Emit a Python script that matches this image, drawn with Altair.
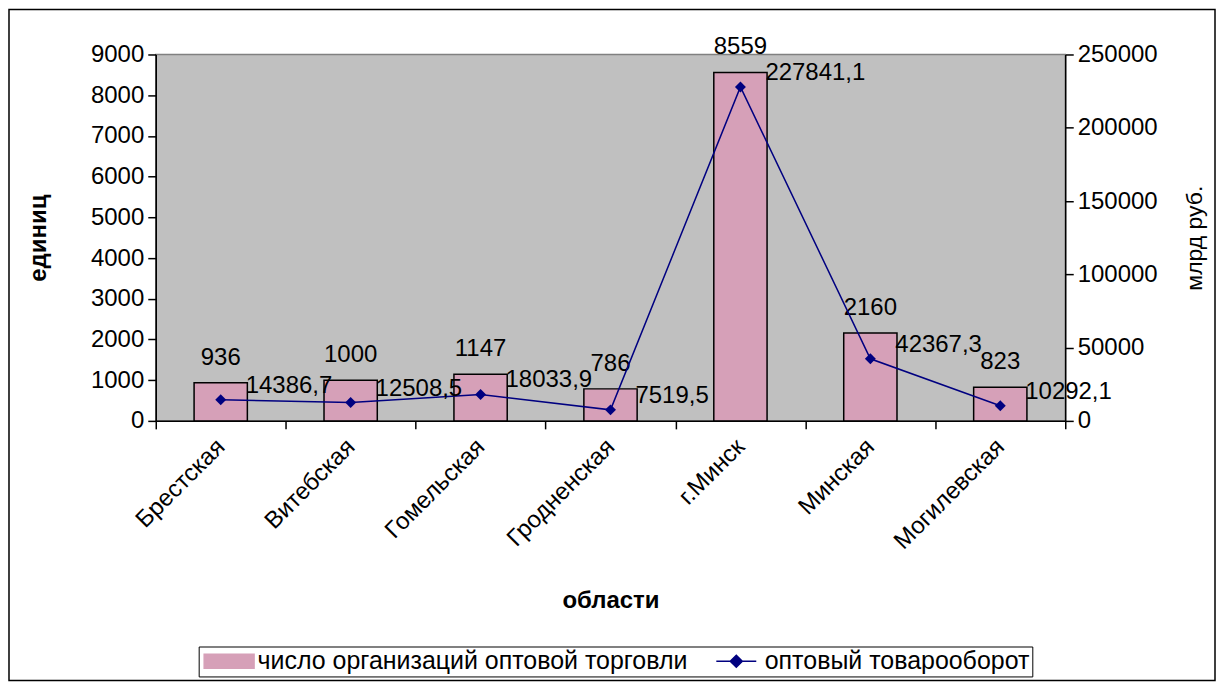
import altair as alt
import pandas as pd

regions = ["Брестская", "Витебская", "Гомельская", "Гродненская", "г.Минск", "Минская", "Могилевская"]
orgs = [936, 1000, 1147, 786, 8559, 2160, 823]
turnover = [14386.7, 12508.5, 18033.9, 7519.5, 227841.1, 42367.3, 10292.1]
series = ["число организаций оптовой торговли", "оптовый товарооборот"]
left_ticks = [0, 1000, 2000, 3000, 4000, 5000, 6000, 7000, 8000, 9000]
right_ticks = [0, 50000, 100000, 150000, 200000, 250000]

PINK = "#d6a0b8"
NAVY = "#000080"
FONT = "Liberation Sans"
FS = 24

bar_df = pd.DataFrame({"region": regions, "orgs": orgs, "series": series[0]})
line_df = pd.DataFrame({
    "region": regions, "turnover": turnover, "series": series[1],
    "lbl": [f"{v:.1f}".replace(".", ",") for v in turnover],
})

x = alt.X("region:N", sort=regions,
          scale=alt.Scale(paddingInner=0, paddingOuter=0),
          axis=alt.Axis(title="области", labelAngle=315, labelAlign="right", labelBaseline="middle",
                        tickBand="extent", tickSize=8, labelPadding=14,
                        titleY=180, titleBaseline="middle", titleFontWeight="bold"))

color_scale = alt.Scale(domain=series, range=[PINK, NAVY])
is_bar = f"datum.value === '{series[0]}'"
legend = alt.Legend(
    orient="none", legendX=43, legendY=593, direction="horizontal", title=None,
    labelFont=FONT, labelFontSize=25, labelColor="black", strokeColor="black", labelLimit=2000,
    padding=2, symbolSize=196, symbolOffset=16, labelOffset=16, columnPadding=20,
    symbolStrokeWidth=1.5, symbolOpacity=1,
    symbolType=alt.ExprRef(expr=f"{is_bar} ? 'M-3.57,-1L3.57,-1L3.57,1L-3.57,1Z' : 'M-2.86,0L2.86,0M0,-0.86L0.86,0L0,0.86L-0.86,0Z'"),
    symbolStrokeColor=alt.ExprRef(expr=f"{is_bar} ? 'black' : '{NAVY}'"),
    symbolFillColor=alt.ExprRef(expr=f"{is_bar} ? '{PINK}' : '{NAVY}'"),
)
color = alt.Color("series:N", scale=color_scale, legend=legend)

y_left = alt.Y("orgs:Q", scale=alt.Scale(domain=[0, 9000], nice=False),
               axis=alt.Axis(title="единиц", values=left_ticks, format="d", grid=False,
                             titleAngle=270, titleX=-117, titleAlign="center", titleBaseline="middle",
                             titleFontWeight="bold", tickSize=8, labelPadding=4))
y_right = alt.Y("turnover:Q", scale=alt.Scale(domain=[0, 250000], nice=False),
                axis=alt.Axis(orient="right", title="млрд руб.", values=right_ticks, format="d", grid=False,
                              titleAngle=270, titleX=129, titleAlign="center", titleBaseline="middle",
                              titleFontWeight="normal", titleFontSize=23, tickSize=8, labelPadding=4))

frame = alt.Chart(alt.Data(values=[{}])).mark_rect(fill="transparent", stroke="black", strokeWidth=1.5).encode(
    x=alt.value(-147), x2=alt.value(1061), y=alt.value(-45), y2=alt.value(627))

lb = alt.Chart(bar_df).encode(x=x, y=y_left)
bars = lb.mark_bar(width={"band": 0.41}, stroke="black", strokeWidth=1.5, opacity=1).encode(color=color)
bar_lbl = lb.mark_text(font=FONT, fontSize=FS, color="black", baseline="alphabetic", dy=-18).encode(text="orgs:Q")
left = alt.layer(bars, bar_lbl)

rb = alt.Chart(line_df).encode(x=x, y=y_right)
line = rb.mark_line(strokeWidth=1.5).encode(color=color)
pts = rb.mark_point(shape="diamond", filled=True, size=120, opacity=1).encode(color=color)
line_lbl = rb.mark_text(font=FONT, fontSize=FS, color="black", align="left", baseline="middle",
                        dx=25, dy=-14).encode(text="lbl:N")
right = alt.layer(line, pts, line_lbl)

chart = alt.layer(frame, left, right).resolve_scale(y="independent").properties(
    width=911, height=367, padding=0, background="white"
).configure_view(fill="#c0c0c0", stroke="#808080", strokeWidth=1.5).configure_axis(
    domainColor="black", tickColor="black", labelColor="black", titleColor="black",
    labelFont=FONT, titleFont=FONT, labelFontSize=FS, titleFontSize=FS, domainWidth=1.5, tickWidth=1.5
)

chart.save("out.html", embed_options={"renderer": "svg", "actions": False})
